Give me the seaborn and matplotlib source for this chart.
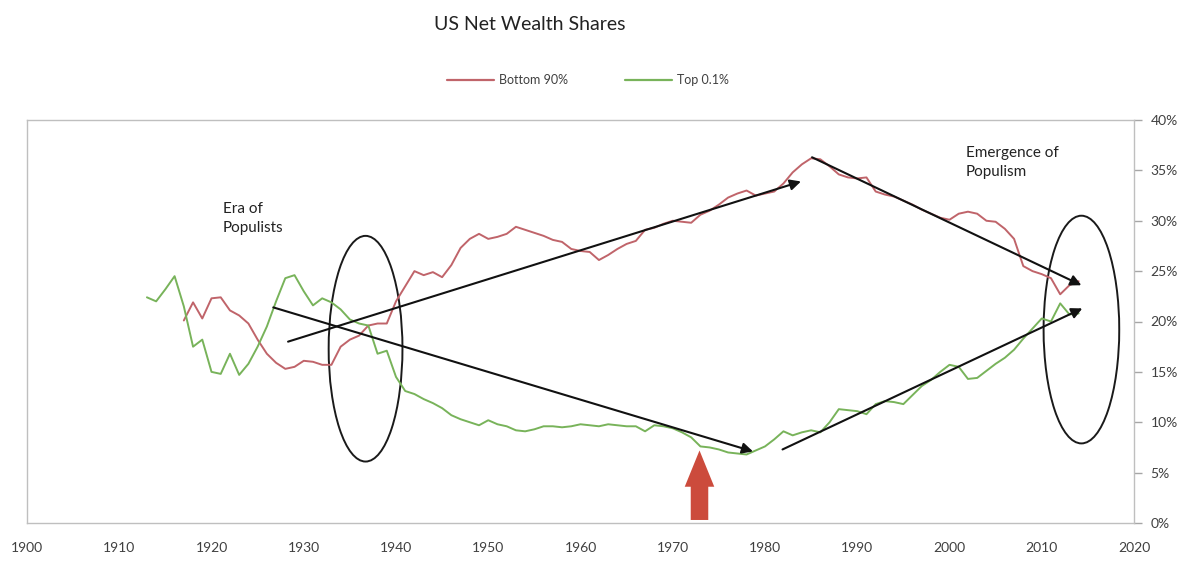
import numpy as np
import pandas as pd
import matplotlib
matplotlib.use("Agg")
import matplotlib.pyplot as plt
import seaborn as sns
from matplotlib.patches import Ellipse, FancyArrow

# ---------------- data ----------------
top_years = list(range(1913, 2015))
top01 = [22.4, 22.0, 23.2, 24.5, 21.5, 17.5, 18.2, 15.0, 14.8, 16.8,   # 1913-1922
         14.7, 15.8, 17.5, 19.5, 22.0, 24.3, 24.6, 23.0, 21.6, 22.3,   # 1923-1932
         21.9, 21.2, 20.2, 19.8, 19.6, 16.8, 17.1, 14.5, 13.1, 12.8,   # 1933-1942
         12.3, 11.9, 11.4, 10.7, 10.3, 10.0, 9.7, 10.2, 9.8, 9.6,      # 1943-1952
         9.2, 9.1, 9.3, 9.6, 9.6, 9.5, 9.6, 9.8, 9.7, 9.6,             # 1953-1962
         9.8, 9.7, 9.6, 9.6, 9.1, 9.7, 9.6, 9.4, 9.0, 8.5,             # 1963-1972
         7.6, 7.5, 7.3, 7.0, 6.9, 6.8, 7.2, 7.6, 8.3, 9.1,             # 1973-1982
         8.7, 9.0, 9.2, 9.0, 10.0, 11.3, 11.2, 11.1, 10.8, 11.8,       # 1983-1992
         12.1, 12.0, 11.8, 12.7, 13.6, 14.2, 15.0, 15.7, 15.5, 14.3,   # 1993-2002
         14.4, 15.1, 15.8, 16.4, 17.2, 18.3, 19.3, 20.3, 20.0, 21.8,   # 2003-2012
         20.7, 20.8]                                                   # 2013-2014

bottom_years = list(range(1917, 2015))
bottom90 = [20.1, 21.9, 20.3, 22.3, 22.4, 21.1,                        # 1917-1922
            20.6, 19.8, 18.2, 16.8, 15.9, 15.3, 15.5, 16.1, 16.0, 15.7, # 1923-1932
            15.7, 17.5, 18.2, 18.6, 19.6, 19.8, 19.8, 22.0, 23.5, 25.0, # 1933-1942
            24.6, 24.9, 24.4, 25.6, 27.3, 28.2, 28.7, 28.2, 28.4, 28.7, # 1943-1952
            29.4, 29.1, 28.8, 28.5, 28.1, 27.9, 27.2, 27.0, 26.9, 26.1, # 1953-1962
            26.6, 27.2, 27.7, 28.0, 29.1, 29.3, 29.7, 30.0, 29.9, 29.8, # 1963-1972
            30.6, 31.0, 31.6, 32.3, 32.7, 33.0, 32.5, 32.7, 32.9, 33.7, # 1973-1982
            34.8, 35.6, 36.2, 36.1, 35.4, 34.6, 34.3, 34.2, 34.3, 32.9, # 1983-1992
            32.6, 32.4, 32.0, 31.6, 31.1, 30.7, 30.3, 30.1, 30.7, 30.9, # 1993-2002
            30.7, 30.0, 29.9, 29.2, 28.2, 25.5, 25.0, 24.7, 24.3, 22.7, # 2003-2012
            23.6, 24.0]                                                # 2013-2014

series_names = ["Bottom 90%", "Top 0.1%"]
x_ticks = list(range(1900, 2021, 10))
y_ticks = [0, 5, 10, 15, 20, 25, 30, 35, 40]
y_tick_labels = [f"{v}%" for v in y_ticks]

# annotation arrows: (start_year, start_pct, end_year, end_pct)
trend_arrows = [
    (1928.3, 18.0, 1983.9, 33.9),
    (1926.7, 21.4, 1978.7, 7.1),
    (1985.1, 36.3, 2014.3, 23.6),
    (1981.9, 7.3, 2014.4, 21.3),
]
# ellipses: (center_year, center_pct, width_years, height_pct)
ellipses = [
    (1936.7, 17.3, 8.0, 22.4),
    (2014.3, 19.2, 8.2, 22.6),
]
era_text = "Era of\nPopulists"
era_pos = (1921.2, 30.2)
emerg_text = "Emergence of\nPopulism"
emerg_pos = (2001.8, 35.8)
red_arrow = (1972.9, 0.3, 7.2)  # x, base, tip

# ---------------- build frame ----------------
df = pd.concat([
    pd.DataFrame({"Year": bottom_years, "Share": bottom90, "Series": series_names[0]}),
    pd.DataFrame({"Year": top_years, "Share": top01, "Series": series_names[1]}),
], ignore_index=True)

sns.set_style("white")
plt.rcParams["font.family"] = ["Lato", "DejaVu Sans"]

fig = plt.figure(figsize=(12, 5.82), dpi=100)
ax = fig.add_axes([27 / 1200, 59 / 582, 1107 / 1200, 403 / 582])

palette = {"Bottom 90%": "#C0646A", "Top 0.1%": "#78B35A"}
sns.lineplot(data=df, x="Year", y="Share", hue="Series", palette=palette,
             linewidth=1.4, ax=ax, legend=False)

ax.set_xlim(1900, 2020)
ax.set_ylim(0, 40)
ax.set_xlabel("")
ax.set_ylabel("")

ax.yaxis.tick_right()
ax.set_yticks(y_ticks)
ax.set_yticklabels(y_tick_labels)
ax.set_xticks(x_ticks)
ax.set_xticklabels([str(t) for t in x_ticks])
ax.tick_params(axis="both", colors="#A6A6A6", labelcolor="#404040",
               labelsize=10, length=6, width=1, direction="out")
ax.tick_params(axis="x", pad=8)
ax.tick_params(axis="y", pad=6)
for s in ax.spines.values():
    s.set_visible(True)
    s.set_color("#BFBFBF")
    s.set_linewidth(1.0)

# trend arrows
for x0, y0, x1, y1 in trend_arrows:
    ax.annotate("", xy=(x1, y1), xytext=(x0, y0),
                arrowprops=dict(arrowstyle="-|>", color="#111111", lw=1.5,
                                mutation_scale=16, shrinkA=0, shrinkB=0))

# ellipses
for cx, cy, w, h in ellipses:
    ax.add_patch(Ellipse((cx, cy), w, h, fill=False, edgecolor="#1A1A1A", lw=1.4))

# thick red arrow
rx, rbase, rtip = red_arrow
ax.add_patch(FancyArrow(rx, rbase, 0, rtip - rbase, width=1.9, head_width=3.2,
                        head_length=3.6, length_includes_head=True,
                        color="#CC4B3C", lw=0))

ax.text(era_pos[0], era_pos[1], era_text, fontsize=11, color="#222222",
        ha="left", va="center", linespacing=1.5)
ax.text(emerg_pos[0], emerg_pos[1], emerg_text, fontsize=11, color="#222222",
        ha="left", va="center", linespacing=1.5)

# title and legend
fig.text(530 / 1200, 1 - 25 / 582, "US Net Wealth Shares", fontsize=14,
         color="#222222", ha="center", va="center")
handles = [plt.Line2D([], [], color=palette[n], lw=1.6) for n in series_names]
fig.legend(handles, series_names, loc="center", bbox_to_anchor=(588 / 1200, 1 - 80 / 582),
           ncol=2, frameon=False, fontsize=9, handlelength=3.8, columnspacing=4.5,
           handletextpad=0.4, labelcolor="#404040")

fig.savefig("out.png", dpi=100, facecolor="white")
